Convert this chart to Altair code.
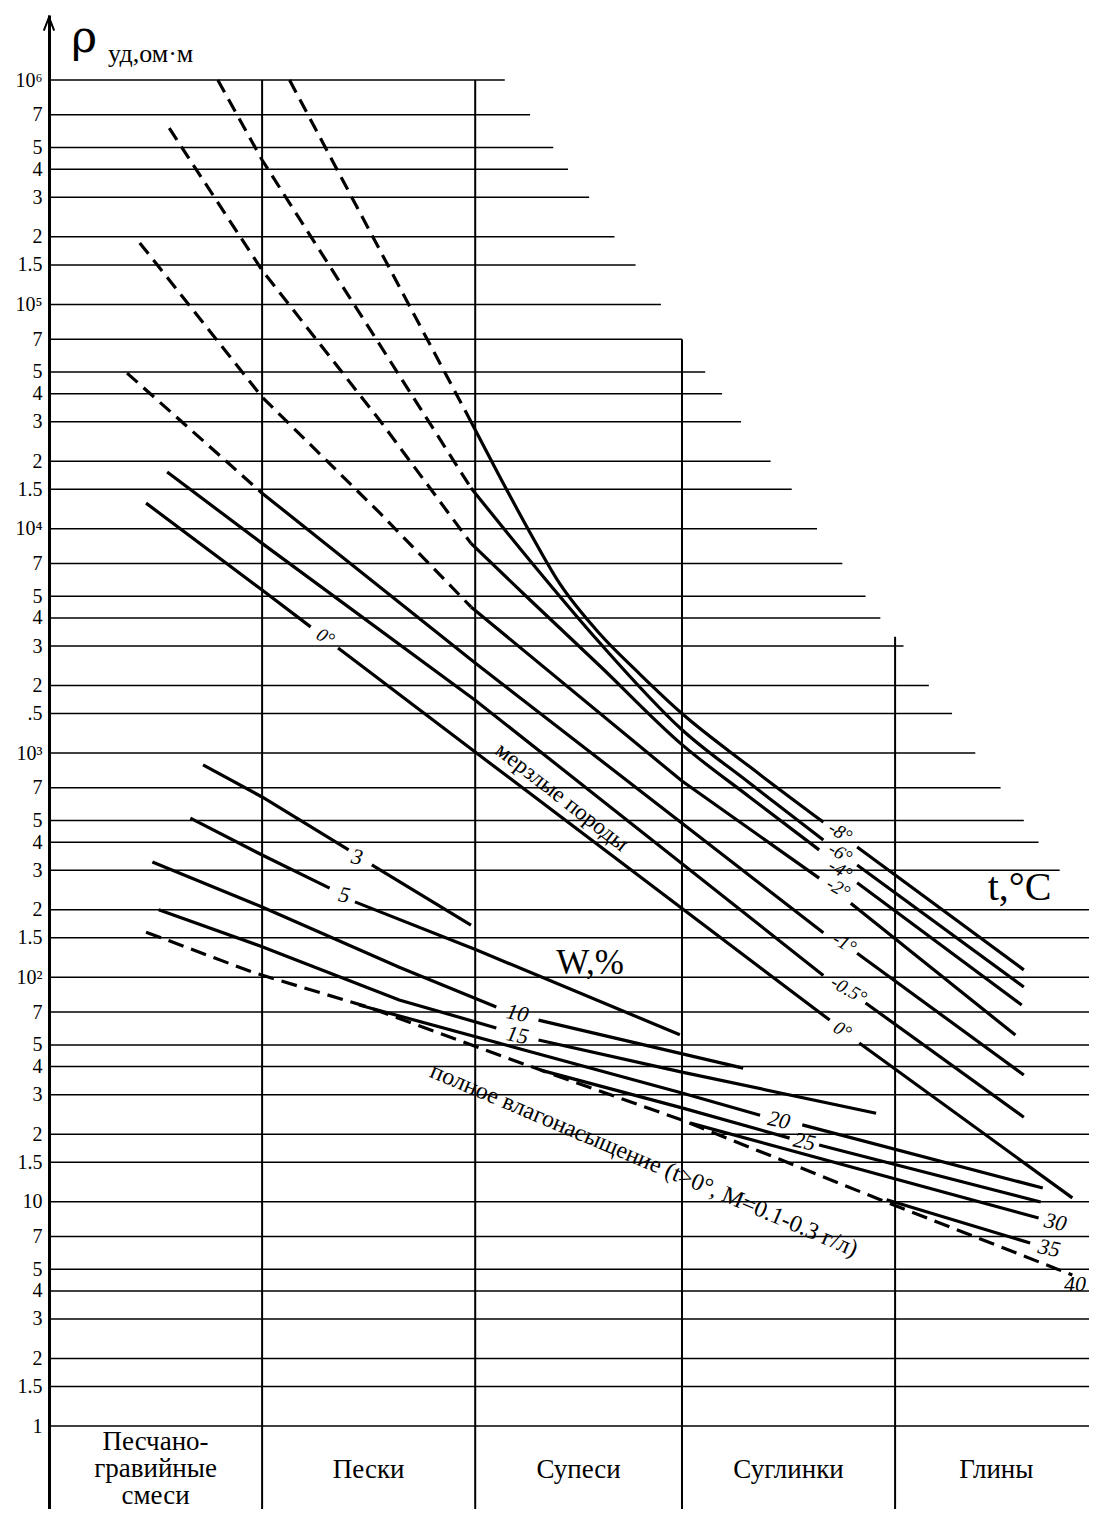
import altair as alt
import pandas as pd

# ---------------- grid / axis values ----------------
grid_values = [1e6, 7e5, 5e5, 4e5, 3e5, 2e5, 1.5e5, 1e5, 7e4, 5e4, 4e4, 3e4, 2e4, 1.5e4,
               1e4, 7e3, 5e3, 4e3, 3e3, 2e3, 1.5e3, 1e3, 700.0, 500.0, 400.0, 300.0, 200.0,
               150.0, 100.0, 70.0, 50.0, 40.0, 30.0, 20.0, 15.0, 10.0, 7.0, 5.0, 4.0, 3.0,
               2.0, 1.5, 1.0]
grid_labels = ["10⁶", "7", "5", "4", "3", "2", "1.5", "10⁵", "7", "5", "4", "3", "2", "1.5",
               "10⁴", "7", "5", "4", "3", "2", ".5", "10³", "7", "5", "4", "3", "2",
               "1.5", "10²", "7", "5", "4", "3", "2", "1.5", "10", "7", "5", "4", "3",
               "2", "1.5", "1"]
grid_ends = [2.16, 2.28, 2.39, 2.46, 2.56, 2.68, 2.78, 2.90, 3.00, 3.11, 3.19, 3.28, 3.42, 3.52,
             3.64, 3.76, 3.87, 3.94, 4.05, 4.17, 4.28, 4.39, 4.51, 4.62, 4.69, 4.79, 4.93,
             5, 5, 5, 5, 5, 5, 5, 5, 5, 5, 5, 5, 5, 5, 5, 5]

col_bounds = [1.01, 2.02, 3.00, 4.01]
col_tops = [1e6, 1e6, 7e4, 3.3e3]
soil_names = ["Песчано-\nгравийные\nсмеси", "Пески", "Супеси", "Суглинки", "Глины"]
soil_x = [0.505, 1.515, 2.51, 3.505, 4.49]
soil_y = [0.845, 0.637, 0.637, 0.637, 0.637]

# ---------------- frozen rocks, t °C ----------------
t_m8_dash_x = [1.14, 2.00]
t_m8_dash_y = [1.0e6, 3.0e4]
t_m8_a_x = [2.00, 2.14, 2.28, 2.42, 2.61, 2.80, 3.00, 3.32, 3.67]
t_m8_a_y = [3.0e4, 1.68e4, 9.6e3, 5.7e3, 3.4e3, 2.25e3, 1.5e3, 870, 492]
t_m8_b_x = [3.83, 4.62]
t_m8_b_y = [381, 108]

t_m6_dash_x = [0.80, 1.01, 2.00]
t_m6_dash_y = [1.0e6, 4.4e5, 1.52e4]
t_m6_a_x = [2.00, 2.28, 2.61, 3.00, 3.32, 3.67]
t_m6_a_y = [1.52e4, 7.2e3, 3.1e3, 1.27e3, 735, 410]
t_m6_b_x = [3.83, 4.62]
t_m6_b_y = [317, 90.6]

t_m4_dash_x = [0.57, 1.01, 1.57, 2.00]
t_m4_dash_y = [6.1e5, 1.42e5, 3.02e4, 8.6e3]
t_m4_a_x = [2.00, 2.28, 2.61, 3.00, 3.32, 3.65]
t_m4_a_y = [8.6e3, 4.81e3, 2.45e3, 1.09e3, 637, 370]
t_m4_b_x = [3.83, 4.61]
t_m4_b_y = [264, 75.3]

t_m2_dash_x = [0.43, 1.01, 1.57, 2.00]
t_m2_dash_y = [1.88e5, 3.86e4, 1.17e4, 4.48e3]
t_m2_a_x = [2.00, 3.00, 3.65]
t_m2_a_y = [4.48e3, 750, 277]
t_m2_b_x = [3.80, 4.58]
t_m2_b_y = [214, 55.3]

t_m1_dash_x = [0.37, 1.01]
t_m1_dash_y = [4.94e4, 1.44e4]
t_m1_a_x = [1.01, 2.02, 3.67]
t_m1_a_y = [1.44e4, 2.52e3, 158]
t_m1_b_x = [3.83, 4.62]
t_m1_b_y = [128, 36.7]

t_m05_a_x = [0.56, 1.01, 2.02, 3.67]
t_m05_a_y = [1.79e4, 8.6e3, 1.72e3, 102]
t_m05_b_x = [3.87, 4.62]
t_m05_b_y = [76.9, 23.8]

t_0_a_x = [0.46, 1.01, 1.24]
t_0_a_y = [1.30e4, 5.33e3, 3.65e3]
t_0_b_x = [1.37, 2.02, 3.70]
t_0_b_y = [2.94e3, 1.01e3, 64.5]
t_0_c_x = [3.84, 4.85]
t_0_c_y = [51.0, 10.4]

t_labels = ["-8°", "-6°", "-4°", "-2°", "-1°", "-0.5°", "0°", "0°"]
t_label_x = [3.75, 3.75, 3.75, 3.74, 3.77, 3.79, 3.76, 1.31]
t_label_y = [444, 358, 301, 250, 142, 87.8, 58.2, 3290]

# ---------------- thawed, moisture W % ----------------
w3_a_x = [0.73, 1.01, 1.42]
w3_a_y = [885, 637, 370]
w3_b_x = [1.53, 2.00]
w3_b_y = [317, 171]

w5_a_x = [0.67, 1.01, 1.33]
w5_a_y = [513, 351, 250]
w5_b_x = [1.45, 2.03, 2.99]
w5_b_y = [217, 132, 55.5]

w10_a_x = [0.49, 1.01, 1.66, 2.12]
w10_a_y = [327, 206, 111, 73.8]
w10_b_x = [2.32, 3.29]
w10_b_y = [64.5, 39.4]

w15_a_x = [0.52, 1.01, 1.66, 2.12]
w15_a_y = [200, 137, 79.3, 59.5]
w15_b_x = [2.32, 3.00, 3.92]
w15_b_y = [52.6, 37.8, 24.8]

w20_a_x = [1.47, 3.00, 3.37]
w20_a_y = [75.3, 30.5, 24.3]
w20_b_x = [3.57, 4.71]
w20_b_y = [22.0, 11.5]

w25_a_x = [2.33, 3.00, 3.51]
w25_a_y = [38.6, 26.2, 19.2]
w25_b_x = [3.65, 4.70]
w25_b_y = [17.9, 9.97]

w30_x = [3.04, 4.69]
w30_y = [22.4, 8.46]

w35_x = [3.97, 4.65]
w35_y = [10.2, 6.54]

w40_x = [0.46, 0.97, 1.51, 2.33, 3.00, 3.94, 4.85]
w40_y = [159, 105, 73.8, 38.6, 23.1, 10.2, 4.71]

w_labels = ["3", "5", "10", "15", "20", "25", "30", "35"]
w_label_x = [1.46, 1.40, 2.22, 2.22, 3.46, 3.58, 4.77, 4.74]
w_label_y = [344, 233, 69.3, 55.3, 23.1, 18.5, 8.11, 6.21]
w40_label = ["40"]
w40_label_x = [4.915]
w40_label_y = [4.3]

# ---------------- annotations ----------------
notes = ["мерзлые породы", "полное влагонасыщение (t>0°, M=0.1-0.3 г/л)"]
note_x = [2.43, 2.82]
note_y = [637, 15.3]

# ---------------- build tables ----------------
curved_segs = [
    ("m8a", t_m8_a_x, t_m8_a_y), ("m6a", t_m6_a_x, t_m6_a_y), ("m4a", t_m4_a_x, t_m4_a_y),
]
solid_segs = [
    ("m8b", t_m8_b_x, t_m8_b_y), ("m6b", t_m6_b_x, t_m6_b_y), ("m4b", t_m4_b_x, t_m4_b_y),
    ("m2a", t_m2_a_x, t_m2_a_y), ("m2b", t_m2_b_x, t_m2_b_y),
    ("m1a", t_m1_a_x, t_m1_a_y), ("m1b", t_m1_b_x, t_m1_b_y),
    ("m05a", t_m05_a_x, t_m05_a_y), ("m05b", t_m05_b_x, t_m05_b_y),
    ("t0a", t_0_a_x, t_0_a_y), ("t0b", t_0_b_x, t_0_b_y), ("t0c", t_0_c_x, t_0_c_y),
    ("w3a", w3_a_x, w3_a_y), ("w3b", w3_b_x, w3_b_y),
    ("w5a", w5_a_x, w5_a_y), ("w5b", w5_b_x, w5_b_y),
    ("w10a", w10_a_x, w10_a_y), ("w10b", w10_b_x, w10_b_y),
    ("w15a", w15_a_x, w15_a_y), ("w15b", w15_b_x, w15_b_y),
    ("w20a", w20_a_x, w20_a_y), ("w20b", w20_b_x, w20_b_y),
    ("w25a", w25_a_x, w25_a_y), ("w25b", w25_b_x, w25_b_y),
    ("w30", w30_x, w30_y), ("w35", w35_x, w35_y),
]
dash_f_segs = [
    ("m8d", t_m8_dash_x, t_m8_dash_y), ("m6d", t_m6_dash_x, t_m6_dash_y),
    ("m4d", t_m4_dash_x, t_m4_dash_y), ("m2d", t_m2_dash_x, t_m2_dash_y),
    ("m1d", t_m1_dash_x, t_m1_dash_y),
]
dash_w_segs = [("w40", w40_x, w40_y)]


def rows(segs):
    out = []
    for name, xs, ys in segs:
        for i, (a, b) in enumerate(zip(xs, ys)):
            out.append({"seg": name, "x": a, "y": b, "ord": i})
    return pd.DataFrame(out)


curved_df = rows(curved_segs)
solid_df = rows(solid_segs)
dash_df_f = rows(dash_f_segs)
dash_df_w = rows(dash_w_segs)

grid_df = pd.DataFrame({"v": grid_values, "start": [0] * len(grid_values), "end": grid_ends})
cols_df = pd.DataFrame({"x": col_bounds, "top": col_tops, "bottom": [0.4266] * len(col_bounds)})
soil_df = pd.DataFrame({"x": soil_x, "y": soil_y, "t": soil_names})
tlab_df = pd.DataFrame({"x": t_label_x, "y": t_label_y, "t": t_labels})
wlab_df = pd.DataFrame({"x": w_label_x, "y": w_label_y, "t": w_labels})
w40lab_df = pd.DataFrame({"x": w40_label_x, "y": w40_label_y, "t": w40_label})
notes_df = pd.DataFrame({"x": note_x, "y": note_y, "t": notes})

# ---------------- scales / axis ----------------
XS = alt.Scale(domain=[0, 4.929], nice=False, zero=False)
YS = alt.Scale(type="log", domain=[0.4266, 1.95e6], nice=False)

labels_js = "[" + ",".join("'" + s + "'" for s in grid_labels) + "]"
values_js = "[" + ",".join(repr(v) for v in grid_values) + "]"
YAXIS = alt.Axis(values=grid_values, labelExpr=labels_js + "[indexof(" + values_js + ", datum.value)]",
                 ticks=False, tickSize=0, grid=False, domainColor="black", domainWidth=3,
                 labelFont="Liberation Serif", labelFontSize=20, labelColor="black",
                 labelPadding=7, labelOverlap=False, title="")
SERIF = "Liberation Serif"


def X(f):
    return alt.X(f, type="quantitative", scale=XS, axis=None)


def Y(f):
    return alt.Y(f, type="quantitative", scale=YS, axis=YAXIS)


def line_layer(df, interp, dash=None):
    kw = dict(color="black", strokeWidth=3.2, strokeCap="butt", interpolate=interp)
    if dash:
        kw["strokeDash"] = dash
    return alt.Chart(df).mark_line(**kw).encode(
        x=X("x"), y=Y("y"), detail="seg:N", order="ord:Q")


grid = alt.Chart(grid_df).mark_rule(color="black", strokeWidth=1.5, clip=True).encode(
    x=X("start"), x2="end:Q", y=Y("v"))

cols = alt.Chart(cols_df).mark_rule(color="black", strokeWidth=2).encode(
    x=X("x"), y=Y("top"), y2="bottom:Q")

curved = line_layer(curved_df, "monotone")
solid = line_layer(solid_df, "linear")
dash_f = line_layer(dash_df_f, "linear", [14, 8])
dash_w = line_layer(dash_df_w, "linear", [16, 8])

soil = alt.Chart(soil_df).mark_text(font=SERIF, fontSize=27, color="black", lineBreak="\n",
                                    lineHeight=27, baseline="middle", align="center").encode(
    x=X("x"), y=Y("y"), text="t:N")

tlab = alt.Chart(tlab_df).mark_text(font=SERIF, fontSize=19, fontStyle="italic", color="black",
                                    angle=30, baseline="middle", align="center").encode(
    x=X("x"), y=Y("y"), text="t:N")

wlab = alt.Chart(wlab_df).mark_text(font=SERIF, fontSize=22, fontStyle="italic", color="black",
                                    angle=12, baseline="middle", align="center").encode(
    x=X("x"), y=Y("y"), text="t:N")

w40lab = alt.Chart(w40lab_df).mark_text(font=SERIF, fontSize=22, fontStyle="italic", color="black",
                                        baseline="middle", align="right").encode(
    x=X("x"), y=Y("y"), text="t:N")

note1 = alt.Chart(notes_df.iloc[[0]]).mark_text(font=SERIF, fontSize=23, color="black", angle=38,
                                                baseline="middle", align="center").encode(
    x=X("x"), y=Y("y"), text="t:N")
note2 = alt.Chart(notes_df.iloc[[1]]).mark_text(font=SERIF, fontSize=24, color="black", angle=23,
                                                baseline="middle", align="center").encode(
    x=X("x"), y=Y("y"), text="t:N")

big_df = pd.DataFrame({"x": [2.564, 4.60], "y": [116, 250], "t": ["W,%", "t,°C"]})
big1 = alt.Chart(big_df.iloc[[0]]).mark_text(font=SERIF, fontSize=35, color="black",
                                             baseline="middle", align="center").encode(
    x=X("x"), y=Y("y"), text="t:N")
big2 = alt.Chart(big_df.iloc[[1]]).mark_text(font=SERIF, fontSize=40, color="black",
                                             baseline="middle", align="center").encode(
    x=X("x"), y=Y("y"), text="t:N")

rho_df = pd.DataFrame({"x": [0.105], "y": [1.33e6], "t": ["ρ"]})
unit_df = pd.DataFrame({"x": [0.28], "y": [1.20e6], "t": ["уд,ом·м"]})
rho = alt.Chart(rho_df).mark_text(font="DejaVu Serif", fontSize=44, color="black",
                                  baseline="alphabetic", align="left").encode(
    x=X("x"), y=Y("y"), text="t:N")
unit = alt.Chart(unit_df).mark_text(font=SERIF, fontSize=26, color="black", baseline="alphabetic",
                                    align="left").encode(x=X("x"), y=Y("y"), text="t:N")

arrow_df = pd.DataFrame({"x": [0.0], "y": [1.78e6]})
arrow = alt.Chart(arrow_df).mark_point(shape="M -0.7 0.9 L 0 -0.9 L 0.7 0.9", filled=False,
                                       stroke="black", strokeWidth=2, size=220, opacity=1).encode(
    x=X("x"), y=Y("y"))

chart = alt.layer(grid, cols, curved, solid, dash_f, dash_w, soil, tlab, wlab, w40lab, note1, note2,
                  big1, big2, rho, unit, arrow).properties(
    width=1040, height=1494,
    padding={"left": 41, "top": 7, "right": 0, "bottom": 0},
    autosize=alt.AutoSizeParams(type="none"),
    background="white",
).configure_view(strokeWidth=0)

chart.save("out.html", embed_options={"renderer": "svg", "actions": False})
